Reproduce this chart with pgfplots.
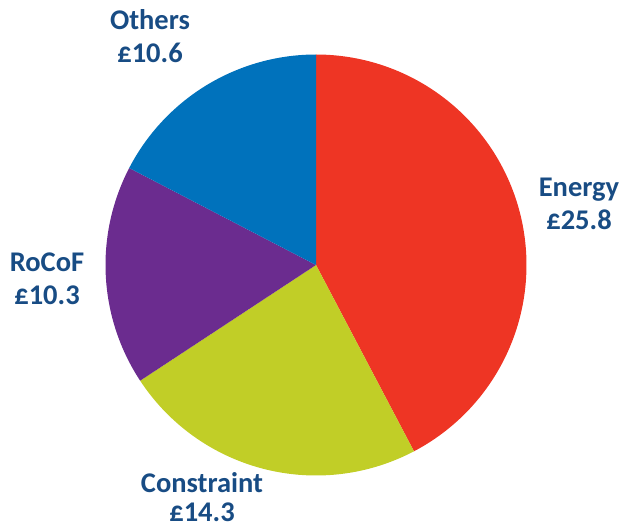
\documentclass[border=0pt]{standalone}
\usepackage{fontspec}
\setmainfont{Carlito}
\usepackage{pgfplots}
\usepackage{pgfplotstable}
\pgfplotsset{compat=1.18}

\definecolor{pieRed}{RGB}{238,53,36}
\definecolor{pieLime}{RGB}{193,206,39}
\definecolor{piePurple}{RGB}{107,44,143}
\definecolor{pieBlue}{RGB}{0,114,188}
\definecolor{lblBlue}{RGB}{24,76,132}

% values in £ (clockwise from 12 o'clock)
\pgfplotstableread{
label      value
Energy     25.8
Constraint 14.3
RoCoF      10.3
Others     10.6
}\piedata

\begin{document}
\begin{tikzpicture}[lbl/.style={font=\fontsize{28.5}{33}\selectfont\bfseries, text=lblBlue, anchor=base, inner sep=0pt}]
\pgfplotstablegetelem{0}{value}\of\piedata \let\vA\pgfplotsretval
\pgfplotstablegetelem{1}{value}\of\piedata \let\vB\pgfplotsretval
\pgfplotstablegetelem{2}{value}\of\piedata \let\vC\pgfplotsretval
\pgfplotstablegetelem{3}{value}\of\piedata \let\vD\pgfplotsretval
\pgfmathsetmacro\tot{\vA+\vB+\vC+\vD}
\pgfmathsetmacro\aA{90}
\pgfmathsetmacro\aB{\aA-360*\vA/\tot}
\pgfmathsetmacro\aC{\aB-360*\vB/\tot}
\pgfmathsetmacro\aD{\aC-360*\vC/\tot}
\pgfmathsetmacro\aE{\aD-360*\vD/\tot}
\def\R{210.5}
\begin{axis}[
    x=1pt, y=1pt,
    xmin=-316, xmax=307,
    ymin=-265, ymax=265,
    hide axis, clip=false,
]
\path (axis cs:-316,-265) rectangle (axis cs:307,265);
\addplot[draw=none, fill=pieRed, domain=\aB:\aA, samples=120, variable=\t]
    ({\R*cos(t)},{\R*sin(t)}) -- (0,0) -- cycle;
\addplot[draw=none, fill=pieLime, domain=\aC:\aB, samples=80, variable=\t]
    ({\R*cos(t)},{\R*sin(t)}) -- (0,0) -- cycle;
\addplot[draw=none, fill=piePurple, domain=\aD:\aC, samples=60, variable=\t]
    ({\R*cos(t)},{\R*sin(t)}) -- (0,0) -- cycle;
\addplot[draw=none, fill=pieBlue, domain=\aE:\aD, samples=60, variable=\t]
    ({\R*cos(t)},{\R*sin(t)}) -- (0,0) -- cycle;

\node[lbl] at (axis cs:263,68) {Energy};
\node[lbl] at (axis cs:263,35) {£25.8};
\node[lbl] at (axis cs:-114,-227) {Constraint};
\node[lbl] at (axis cs:-114,-256) {£14.3};
\node[lbl] at (axis cs:-269,-7) {RoCoF};
\node[lbl] at (axis cs:-269,-40) {£10.3};
\node[lbl] at (axis cs:-166,235) {Others};
\node[lbl] at (axis cs:-166,202) {£10.6};
\end{axis}
\end{tikzpicture}
\end{document}
